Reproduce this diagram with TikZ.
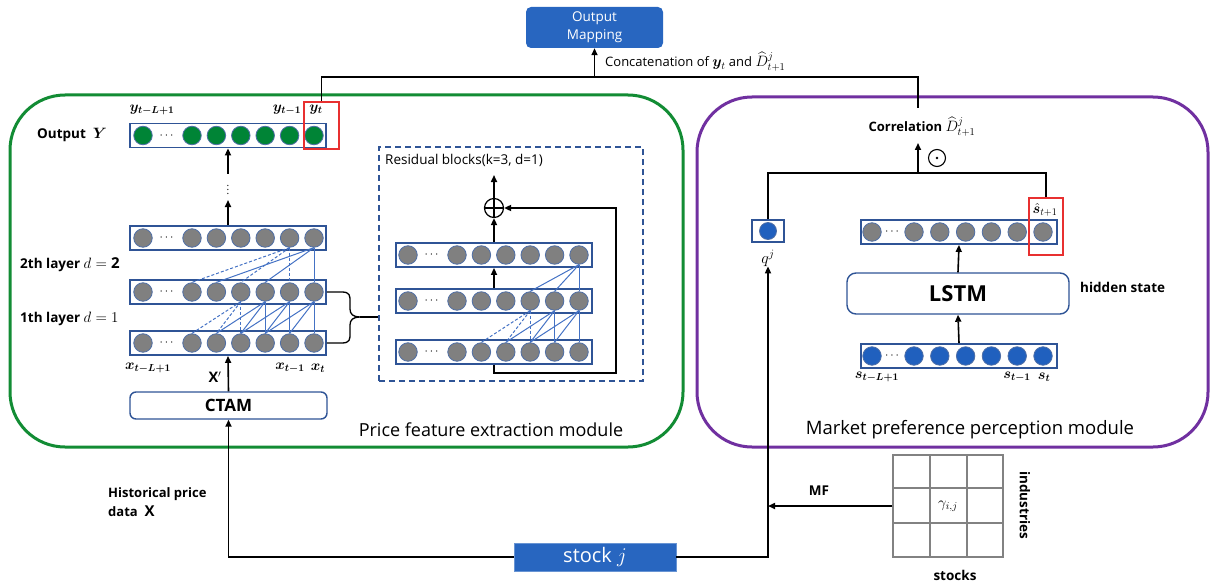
\RequirePackage{fix-cm}
\documentclass[tikz,border=0pt]{standalone}
\usepackage{amsmath,bm}
\usepackage{fontspec}
\setmainfont{Open Sans}
\usetikzlibrary{arrows.meta,calc}
\definecolor{modgreen}{RGB}{18,140,52}
\definecolor{modpurple}{RGB}{112,48,160}
\definecolor{boxblue}{RGB}{47,84,150}
\definecolor{fillblue}{RGB}{40,102,192}
\definecolor{linkblue}{RGB}{68,114,196}
\definecolor{cgray}{RGB}{128,128,128}
\definecolor{cgreen}{RGB}{0,132,54}
\definecolor{cblue}{RGB}{32,96,190}
\definecolor{redbox}{RGB}{232,48,48}
\definecolor{gridgray}{RGB}{130,130,130}
\newcommand{\fs}[2]{\fontsize{#1}{#2}\selectfont}
\newcommand{\mkrow}[7]{%
  \node[rowbox] (#1) at (#2,#3) {};
  \node[#7] (#1f) at (#4,#3) {};
  \node[font=\fs{12}{12}, inner sep=0pt] (#1d) at ({(#4+#5)/2},#3) {$\cdots$};
  \foreach \k in {0,...,5} {\node[#7] (#1p\k) at ({#5+#6*\k},#3) {};}
}
\begin{document}
\begin{tikzpicture}[x=1pt,y=-1pt,
  rowbox/.style={draw=boxblue,line width=1.8pt,fill=white,minimum width=196pt,minimum height=24pt,inner sep=0pt},
  gcirc/.style={circle,draw=boxblue!85,line width=0.8pt,fill=cgray,minimum size=18.5pt,inner sep=0pt},
  grcirc/.style={gcirc,fill=cgreen},
  blcirc/.style={gcirc,fill=cblue},
  link/.style={draw=linkblue,line width=1pt},
  dlink/.style={link,dash pattern=on 3pt off 2pt},
  blk/.style={draw=black,line width=1.6pt},
  arr/.style={blk,-{Triangle[length=7pt,width=6pt]}},
  redframe/.style={draw=redbox,line width=1.5pt,inner sep=0pt},
  lbl/.style={inner sep=0pt,font=\fs{14.5}{17}},
  btxt/.style={inner sep=0pt,font=\bfseries\fs{13.5}{16}}
]
\useasboundingbox (0,0) rectangle (1213,583);

% modules
\draw[modgreen,line width=3pt,rounded corners=55pt] (10,95) rectangle (683,447);
\draw[modpurple,line width=3pt,rounded corners=55pt] (697,97) rectangle (1208,447);
\node[inner sep=0pt,font=\fs{18}{20}] (ptitle) at (491,430) {Price feature extraction module};
\node[inner sep=0pt,font=\fs{18.5}{20}] (mtitle) at (970,430) {Market preference perception module};

% output mapping
\node[fill=fillblue,rounded corners=5pt,minimum width=137pt,minimum height=41pt,text=white,align=center,font=\fs{13.5}{18},inner sep=0pt] (om) at (594.5,27.5) {Output\\Mapping};

% ---------- left stack ----------
\mkrow{ro}{228}{135.5}{143}{192}{24.4}{grcirc}
\mkrow{la}{228}{238}{143}{192}{24.4}{gcirc}
\mkrow{lb}{228}{292}{143}{192}{24.4}{gcirc}
\mkrow{lc}{228}{343}{143}{192}{24.4}{gcirc}

% d=1 links lb -> lc
\foreach \u in {3,4,5} {
  \pgfmathtruncatemacro{\a}{\u-1}\pgfmathtruncatemacro{\b}{\u-2}
  \draw[link] (lbp\u.south) -- (lcp\u.north);
  \draw[link] (lbp\u.south) -- (lcp\a.north);
  \draw[link] (lbp\u.south) -- (lcp\b.north);
}
\draw[dlink] (lbp2.south) -- (lcp2.north);
\draw[dlink] (lbp2.south) -- (lcp1.north);
\draw[dlink] (lbp2.south) -- (lcp0.north);
% d=2 links la -> lb
\draw[link] (lap5.south) -- (lbp5.north);
\draw[link] (lap5.south) -- (lbp3.north);
\draw[link] (lap5.south) -- (lbp1.north);
\draw[dlink] (lap4.south) -- (lbp4.north);
\draw[dlink] (lap4.south) -- (lbp2.north);
\draw[dlink] (lap4.south) -- (lbp0.north);

\node[lbl] (yL) at (152,110) {$\boldsymbol{y_{t-L+1}}$};
\node[lbl] (y1) at (287,110) {$\boldsymbol{y_{t-1}}$};
\node[lbl] (y0) at (316,110) {$\boldsymbol{y_{t}}$};
\node[redframe,minimum width=35pt,minimum height=47pt] (redL) at (321.5,125.5) {};

\node[btxt,anchor=west] (outY) at (37,135) {Output \ {\fs{15}{16}$\boldsymbol{Y}$}};
\node[btxt,anchor=west] (l2t) at (20,265) {2th layer {\fs{15}{16}$d=\mathbf{2}$}};
\node[btxt,anchor=west] (l1t) at (20,319) {1th layer {\fs{15}{16}$d=1$}};

\node[lbl] (xL) at (148,368) {$\boldsymbol{x_{t-L+1}}$};
\node[lbl] (x1) at (290,368) {$\boldsymbol{x_{t-1}}$};
\node[lbl] (x0) at (318,368) {$\boldsymbol{x_{t}}$};
\node[lbl] (xp) at (215,377) {$\mathbf{X}'$};

\coordinate (va) at (228,200);
\coordinate (vb) at (228,174);
\draw[arr] (la.north) -- (va);
\node[inner sep=0pt,font=\fs{10}{10}] (vdots) at (228,187) {$\vdots$};
\draw[arr] (vb) -- (ro.south);

\node[draw=boxblue,line width=1.4pt,rounded corners=6pt,fill=white,minimum width=197pt,minimum height=27pt,font=\bfseries\fs{17}{20},inner sep=0pt] (ctam) at (228.5,405.5) {CTAM};
\draw[arr] (ctam.north) -- (lc.south);

% brace
\coordinate (btip) at (360,317);
\draw[line width=1.3pt] (lb.east) -- (342,292) .. controls (350,292) and (350,296) .. (350,301) -- (350,309) .. controls (350,314) and (353,317) .. (btip)
  .. controls (353,317) and (350,320) .. (350,325) -- (350,334) .. controls (350,339) and (350,343) .. (342,343) -- (lc.east);

% ---------- residual block ----------
\node[draw=boxblue,dash pattern=on 6pt off 4pt,line width=1.3pt,minimum width=264pt,minimum height=234pt,inner sep=0pt] (resbox) at (511,264) {};
\draw[line width=1.3pt] (btip) -- (btip -| resbox.west);
\node[inner sep=0pt,anchor=west,font=\fs{13.5}{16}] (rtitle) at (385,160) {Residual blocks(k=3, d=1)};

\mkrow{rt}{494}{255}{408}{457}{24.4}{gcirc}
\mkrow{rm}{494}{301}{408}{457}{24.4}{gcirc}
\mkrow{rb}{494}{352}{408}{457}{24.4}{gcirc}

\foreach \u in {4,5} {
  \pgfmathtruncatemacro{\a}{\u-1}\pgfmathtruncatemacro{\b}{\u-2}
  \draw[link] (rmp\u.south) -- (rbp\u.north);
  \draw[link] (rmp\u.south) -- (rbp\a.north);
  \draw[link] (rmp\u.south) -- (rbp\b.north);
}
\draw[dlink] (rmp3.south) -- (rbp3.north);
\draw[dlink] (rmp3.south) -- (rbp2.north);
\draw[dlink] (rmp3.south) -- (rbp1.north);
\draw[link] (rtp5.south) -- (rmp5.north);
\draw[link] (rtp5.south) -- (rmp4.north);
\draw[link] (rtp5.south) -- (rmp3.north);

\node[circle,draw,line width=1.2pt,minimum size=19pt,inner sep=0pt,fill=white] (oplus) at (494,208) {};
\draw[line width=1.2pt] (oplus.north) -- (oplus.south) (oplus.west) -- (oplus.east);
\coordinate (resout) at (494,175);
\draw[arr] (rm.north) -- (rt.south);
\draw[arr] (rt.north) -- (oplus.south);
\draw[arr] (oplus.north) -- (resout);
\coordinate (sk1) at (494,373);
\coordinate (sk2) at (616,373);
\draw[arr] (rb.south) -- (sk1) -- (sk2) -- (sk2 |- oplus) -- (oplus.east);

% ---------- right module ----------
\mkrow{rh}{959}{232}{872}{914}{25.8}{gcirc}
\mkrow{rs}{959}{356}{872}{914}{25.8}{blcirc}
\node[draw=boxblue,line width=1.4pt,rounded corners=9pt,fill=white,minimum width=222pt,minimum height=41pt,font=\bfseries\fs{22}{24},inner sep=0pt] (lstm) at (958,293.5) {LSTM};
\draw[arr] (rs.north) -- (lstm.south);
\draw[arr] (lstm.north) -- (rh.south);
\node[btxt,anchor=west] (hid) at (1080,287) {hidden state};

\node[lbl] (sL) at (877,377) {$\boldsymbol{s_{t-L+1}}$};
\node[lbl] (s1) at (1017,377) {$\boldsymbol{s_{t-1}}$};
\node[lbl] (s0) at (1044,377) {$\boldsymbol{s_{t}}$};
\node[lbl] (shat) at (1045,210) {$\hat{\boldsymbol{s}}_{t+1}$};
\node[redframe,minimum width=34pt,minimum height=57pt] (redR) at (1046,226.5) {};

\node[draw=boxblue,line width=1.2pt,minimum width=32pt,minimum height=22pt,inner sep=0pt,fill=white] (qbox) at (768,231) {};
\node[blcirc,minimum size=17pt] (qc) at (qbox.center) {};
\node[lbl,font=\fs{16}{18}] (qlab) at (768,258) {$q^{j}$};

\node[inner sep=0pt,font=\bfseries\fs{13}{16}] (corr) at (922,127) {Correlation {\fs{15}{17}$\widehat{D}^{j}_{t+1}$}};
\node[circle,draw,line width=1.1pt,minimum size=17pt,inner sep=0pt] (odot) at (937,158) {};
\fill (odot.center) circle (1.3);
\coordinate (cj) at (918,173);
\draw[blk] (qbox.north) -- (qbox.north |- cj) -- (redR.north |- cj) -- (redR.north);
\draw[arr] (cj) -- (918,143);

% ---------- top concatenation ----------
\coordinate (tl) at (321.5,77);
\coordinate (tr) at (918,77);
\draw[blk] (redL.north) -- (tl) -- (tr) -- (918,108);
\draw[arr] (om.south |- tl) -- (om.south);
\node[inner sep=0pt,anchor=west,font=\fs{13}{16}] (concat) at (605,62) {Concatenation of {\fs{15}{17}$\boldsymbol{y}_t$} and {\fs{15}{17}$\widehat{D}^{j}_{t+1}$}};

% ---------- bottom ----------
\node[fill=fillblue,draw=fillblue!70!white,line width=0.6pt,minimum width=162pt,minimum height=28pt,text=white,font=\fs{20}{24},inner sep=0pt] (stock) at (595,557) {stock {\fs{21}{24}$j$}};
\draw[arr] (stock.west) -| (ctam.south);
\draw[arr] (stock.east) -| (qlab.south);
\node[btxt,anchor=west,align=left,font=\bfseries\fs{13}{19}] (hist) at (108,502) {Historical price\\data \ {\fs{15}{16}$\mathbf{X}$}};

% matrix
\node[draw=gridgray,line width=1.6pt,minimum width=110pt,minimum height=102pt,inner sep=0pt] (mat) at (948,506) {};
\draw[gridgray,line width=1.6pt] (930,455) -- (930,557) (967,455) -- (967,557) (893,488) -- (1003,488) (893,523) -- (1003,523);
\node[inner sep=0pt,font=\fs{15}{17}] (gam) at (948,506) {$\gamma_{i,j}$};
\draw[arr] (mat.west) -- (mat.west -| qlab.south);
\node[btxt] (mf) at (819,491) {MF};
\node[btxt,rotate=-90] (ind) at (1025,505) {industries};
\node[btxt] (stk) at (955,575) {stocks};
\end{tikzpicture}
\end{document}
